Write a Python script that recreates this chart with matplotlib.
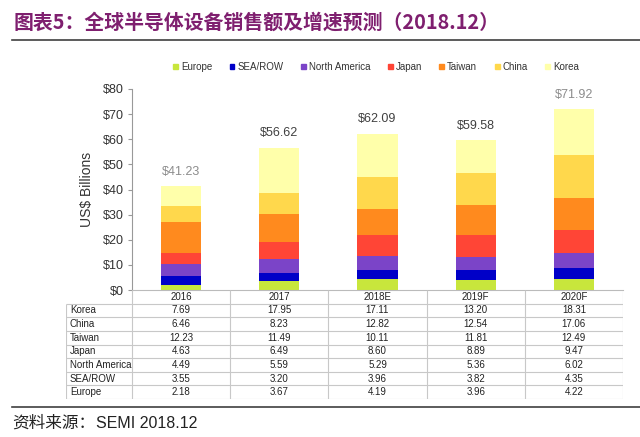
import matplotlib

matplotlib.use("Agg")
import matplotlib.pyplot as plt
import matplotlib.patches as mpatches
import numpy as np

plt.rcParams["font.family"] = ["Liberation Sans", "Noto Sans CJK SC", "DejaVu Sans"]

YEARS = ["2016", "2017", "2018E", "2019F", "2020F"]
REGIONS = ["Europe", "SEA/ROW", "North America", "Japan", "Taiwan", "China", "Korea"]
EUROPE = [2.18, 3.67, 4.19, 3.96, 4.22]
SEA_ROW = [3.55, 3.20, 3.96, 3.82, 4.35]
NORTH_AMERICA = [4.49, 5.59, 5.29, 5.36, 6.02]
JAPAN = [4.63, 6.49, 8.60, 8.89, 9.47]
TAIWAN = [12.23, 11.49, 10.11, 11.81, 12.49]
CHINA = [6.46, 8.23, 12.82, 12.54, 17.06]
KOREA = [7.69, 17.95, 17.11, 13.20, 18.31]
TOTALS = [41.23, 56.62, 62.09, 59.58, 71.92]

SERIES = [EUROPE, SEA_ROW, NORTH_AMERICA, JAPAN, TAIWAN, CHINA, KOREA]
COLORS = ["#c8e63c", "#0000c8", "#7b44c8", "#ff4536", "#ff8a1e", "#ffd84c", "#ffffaa"]
TOTAL_COLORS = ["#8c8c8c", "#404040", "#404040", "#404040", "#8c8c8c"]

W, H = 640, 437
fig = plt.figure(figsize=(W / 100, H / 100), dpi=100)


def fx(px):
    return px / W


def fy(px):
    return 1 - px / H


# title + rule
fig.text(fx(14), fy(22), "图表5：全球半导体设备销售额及增速预测（2018.12）",
         fontsize=14.3, fontweight="bold", color="#7f1f6f", va="center",
         family=["Noto Sans CJK SC", "DejaVu Sans"])
fig.add_artist(plt.Line2D([fx(12), 1], [fy(40), fy(40)], color="#404040", lw=1.2))

# main chart
ax = fig.add_axes([fx(132), fy(290), fx(623) - fx(132), fy(89) - fy(290)])
x = np.arange(len(YEARS))
bottom = np.zeros(len(YEARS))
for vals, col, name in zip(SERIES, COLORS, REGIONS):
    ax.bar(x, vals, bottom=bottom, width=0.41, color=col, label=name, linewidth=0)
    bottom += np.array(vals)
for xi, tot, c in zip(x, TOTALS, TOTAL_COLORS):
    ax.text(xi, tot + 3.5, f"${tot:.2f}", ha="center", va="bottom", fontsize=9, color=c)

ax.set_xlim(-0.5, len(YEARS) - 0.5)
ax.set_ylim(0, 80)
ax.set_yticks(range(0, 81, 10))
ax.set_yticklabels([f"${v}" for v in range(0, 81, 10)], fontsize=9, color="#333333")
ax.set_xticks([])
ax.set_ylabel("US$ Billions", fontsize=10, color="#333333", labelpad=6)
ax.tick_params(axis="y", length=3, color="#999999", pad=3)
for s in ("top", "right"):
    ax.spines[s].set_visible(False)
ax.spines["left"].set_color("#999999")
ax.spines["bottom"].set_color("#bbbbbb")

fig.legend(handles=[mpatches.Patch(color=c, label=n) for c, n in zip(COLORS, REGIONS)],
           loc="center", bbox_to_anchor=(fx(376), fy(67)), ncol=7, fontsize=7,
           frameon=False, handlelength=0.5, handleheight=0.5, handletextpad=0.3,
           columnspacing=1.8, labelcolor="#333333")

# data table under the bars
tax = fig.add_axes([fx(66), fy(399), fx(623) - fx(66), fy(290) - fy(399)])
left = -0.5 - (132 - 66) / ((623 - 132) / len(YEARS))
tax.set_xlim(left, len(YEARS) - 0.5)
nrows = len(REGIONS) + 1
tax.set_ylim(nrows, 0)
tax.axis("off")
grid = "#c8c8c8"
tax.hlines(range(1, nrows + 1), left, len(YEARS) - 0.5, color=grid, lw=0.8)
tax.vlines(np.arange(len(YEARS) + 1) - 0.5, 0, nrows, color=grid, lw=0.8)
tax.vlines(left, 1, nrows, color=grid, lw=0.8)
for xi, yr in zip(x, YEARS):
    tax.text(xi, 0.5, yr, ha="center", va="center", fontsize=7, color="#222222")
rows = list(zip(REGIONS, SERIES))[::-1]
for ri, (name, vals) in enumerate(rows, start=1):
    tax.text(left + 0.04, ri + 0.5, name, ha="left", va="center", fontsize=7, color="#222222")
    for xi, v in zip(x, vals):
        tax.text(xi, ri + 0.5, f"{v:.2f}", ha="center", va="center", fontsize=7, color="#222222")

# source
fig.add_artist(plt.Line2D([fx(12), 1], [fy(407), fy(407)], color="#404040", lw=1.2))
fig.text(fx(12), fy(423), "资料来源：", fontsize=12, va="center", color="#222222",
         family=["Noto Sans CJK SC", "DejaVu Sans"])
fig.text(fx(96), fy(423), "SEMI 2018.12", fontsize=11.5, va="center", color="#222222")

fig.savefig("out.png", dpi=100)
